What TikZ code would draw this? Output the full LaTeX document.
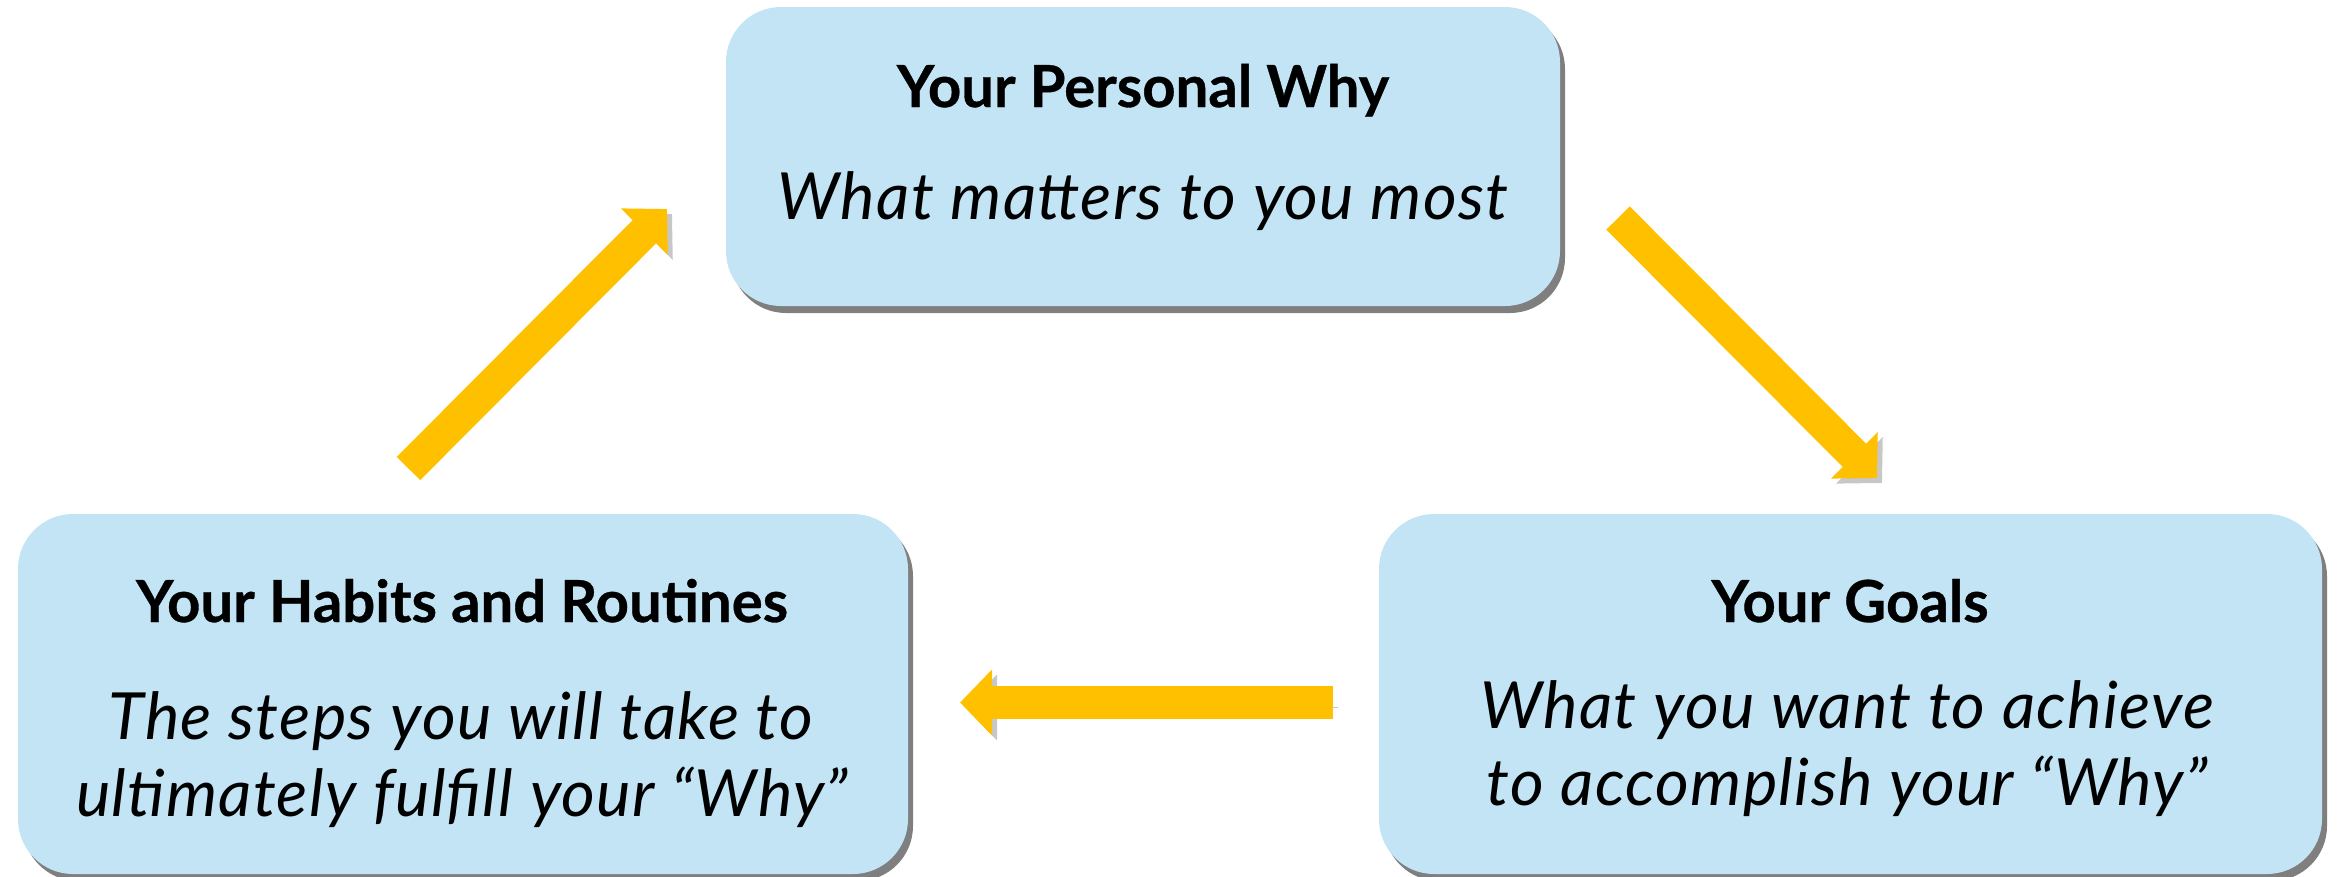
\documentclass[tikz,border=0pt]{standalone}
\usepackage{fontspec}
\setmainfont{Lato}
\newfontfamily\headfont{Lato}[FakeBold=0.6]
\newfontfamily\bodyfont{Lato}[LetterSpace=2]
\usetikzlibrary{arrows.meta,shadows}
\definecolor{cardblue}{HTML}{C2E4F4}
\definecolor{arrowgold}{HTML}{FFC000}
\tikzset{
  card/.style={fill=cardblue, rounded corners=5.5mm, inner sep=0pt,
    drop shadow={shadow xshift=0.5mm, shadow yshift=-0.7mm, opacity=0.5, fill=black}},
  cardtitle/.style={anchor=base, inner sep=0pt, font=\headfont\bfseries\fontsize{16.5}{20}\selectfont},
  cardtext/.style={anchor=base, inner sep=0pt, font=\bodyfont\itshape\fontsize{18.5}{22}\selectfont},
  cyclearrow/.style={draw=arrowgold, line width=3.3mm, -{Triangle[width=6.4mm,length=3.2mm]},
    preaction={draw=black!22, transform canvas={shift={(0.5mm,-0.5mm)}}}}
}
\begin{document}
\begin{tikzpicture}[x=0.1mm,y=-0.1mm]
  \useasboundingbox (0,0) rectangle (2338,876);
  % cards
  \node[card, minimum width=83.4mm, minimum height=29.9mm] (why) at (1143,156.5) {};
  \node[card, minimum width=89mm, minimum height=36mm] (habits) at (463,694) {};
  \node[card, minimum width=94.3mm, minimum height=36mm] (goals) at (1850.5,694) {};
  \node[cardtitle] (whyT) at (1143,107) {Your Personal Why};
  \node[cardtext] (whyA) at (1143,219) {What matters to you most};
  \node[cardtitle] (habitsT) at (462,622) {Your Habits and Routines};
  \node[cardtext] (habitsA) at (461,739) {The steps you will take to};
  \node[cardtext] (habitsB) at (462,816) {ultimately fulfill your “Why”};
  \node[cardtitle] (goalsT) at (1850,622) {Your Goals};
  \node[cardtext] (goalsA) at (1847,728) {What you want to achieve};
  \node[cardtext] (goalsB) at (1847,805) {to accomplish your “Why”};
  % arrows
  \coordinate (whyOut) at (1618,218);
  \coordinate (goalsIn) at (1877,478);
  \coordinate (goalsOut) at (1333,702.5);
  \coordinate (habitsIn) at (960,702.5);
  \coordinate (habitsOut) at (408.5,468.5);
  \coordinate (whyIn) at (667,209);
  \draw[cyclearrow] (whyOut) -- (goalsIn);
  \draw[cyclearrow] (goalsOut) -- (habitsIn);
  \draw[cyclearrow] (habitsOut) -- (whyIn);
\end{tikzpicture}
\end{document}
